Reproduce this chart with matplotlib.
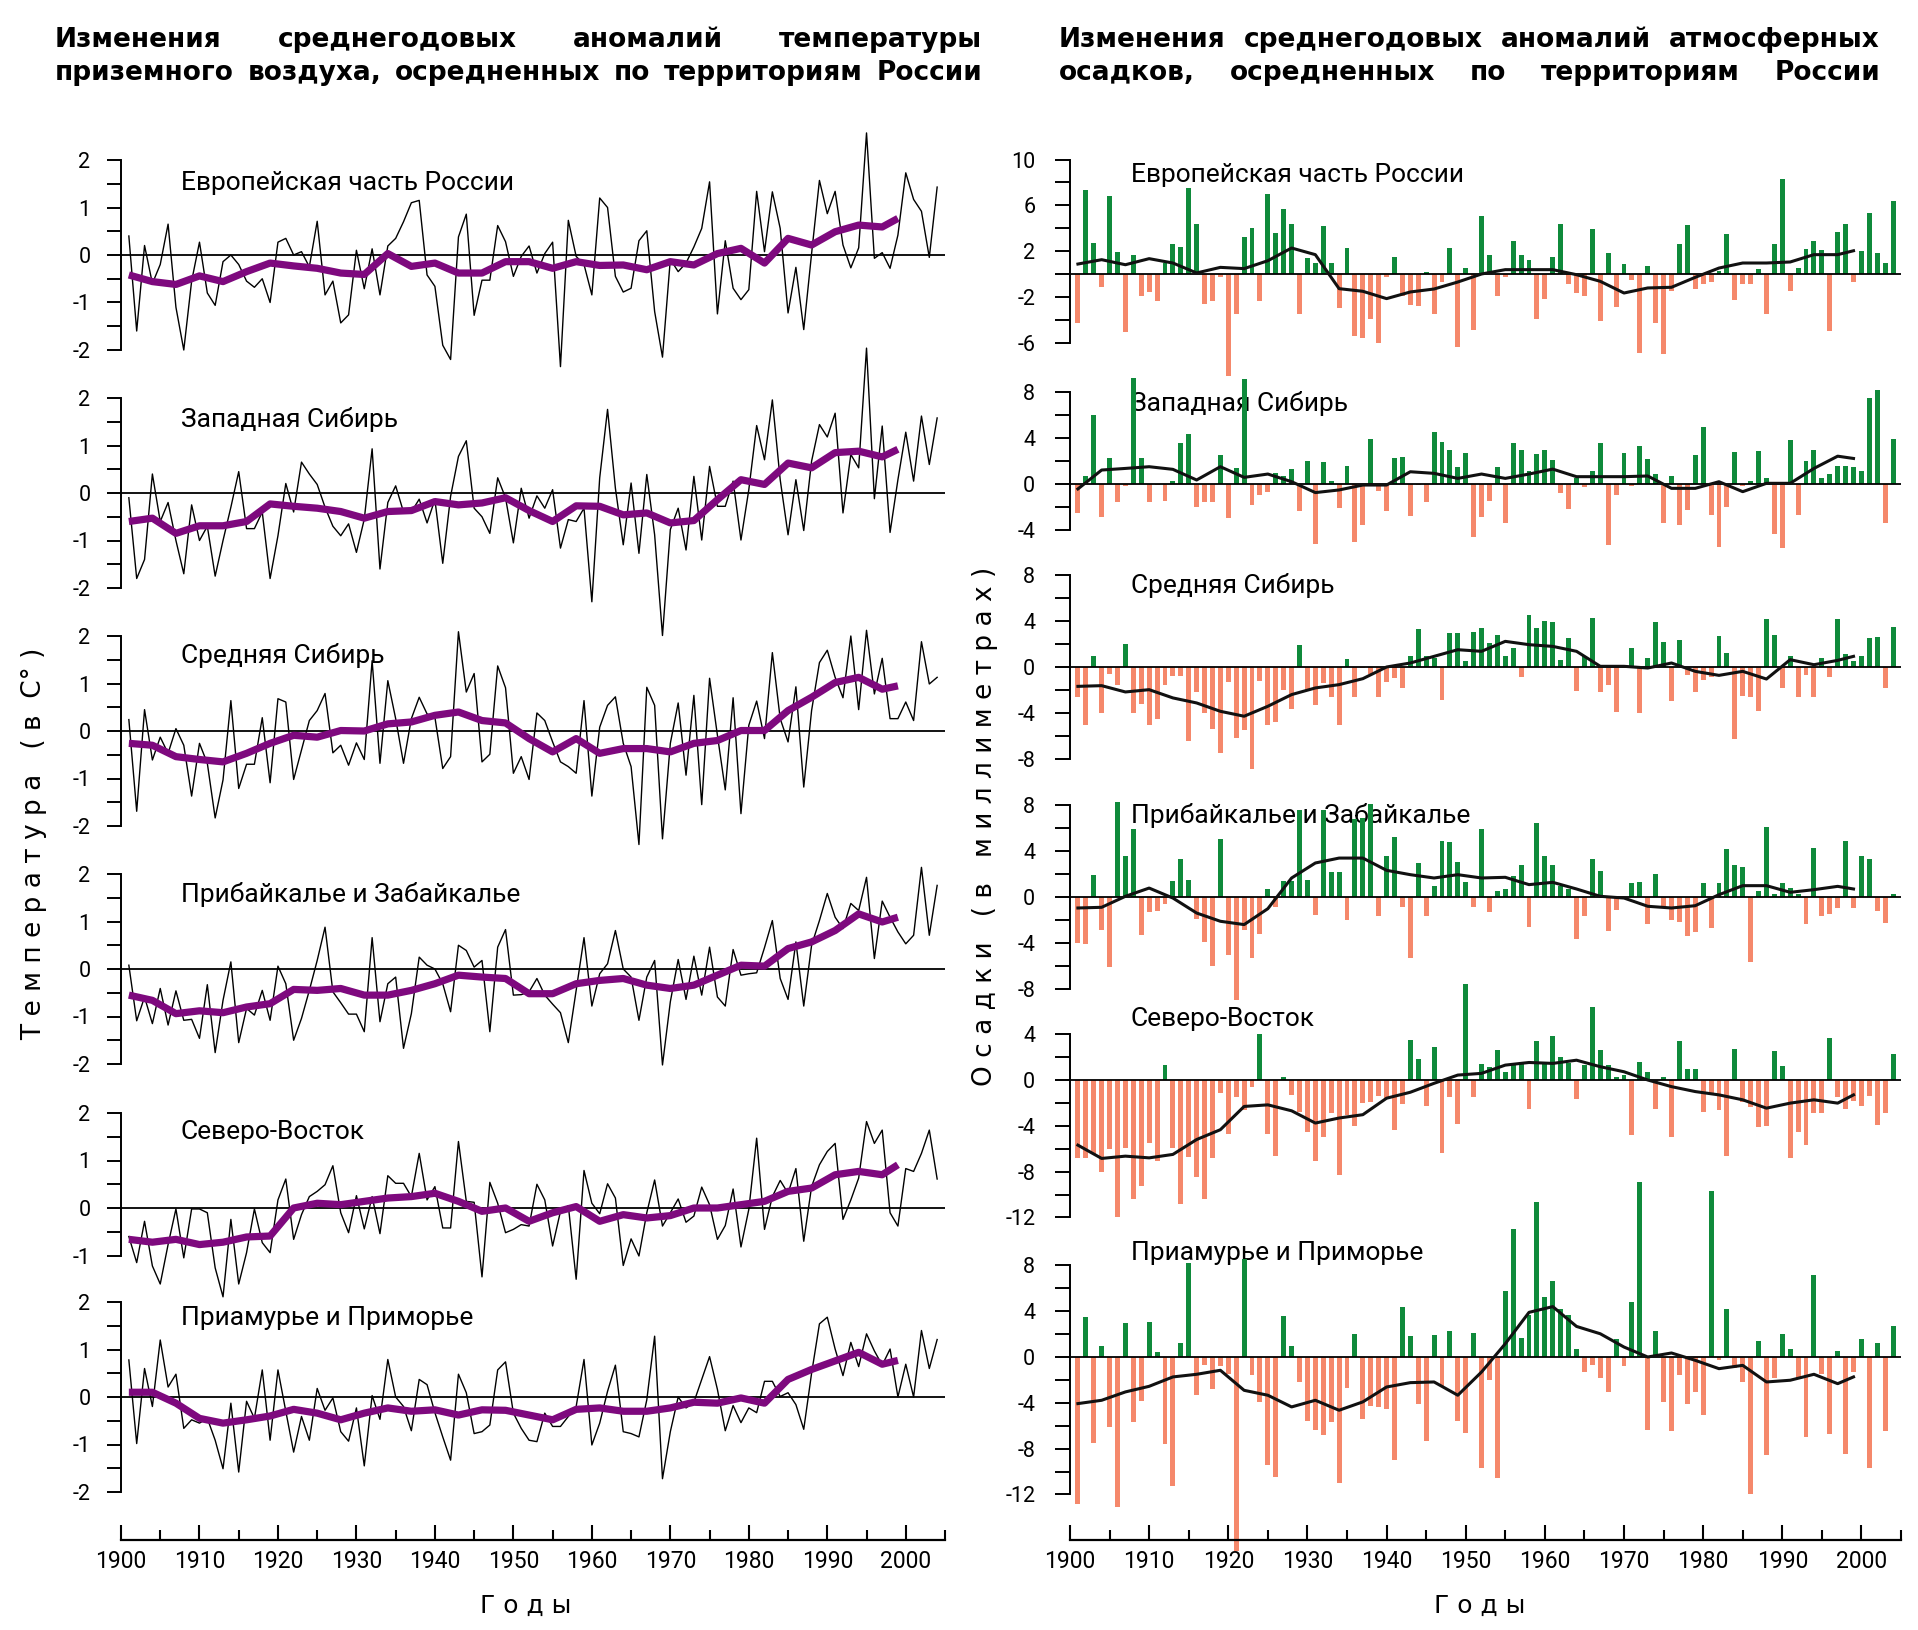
import matplotlib
matplotlib.use("Agg")
import matplotlib.pyplot as plt

plt.rcParams["axes.unicode_minus"] = False
plt.rcParams["font.family"] = ["Roboto", "DejaVu Sans"]

W, H = 1918, 1630
GREEN = "#0f8a3b"
SALMON = "#f5886b"
PURPLE = "#7e097e"

# ---- данные ----
YEARS = list(range(1901, 2005))
SMOOTH_YEARS = list(range(1901, 1998, 3)) + [1999]

REGIONS = ["Европейская часть России", "Западная Сибирь", "Средняя Сибирь",
           "Прибайкалье и Забайкалье", "Северо-Восток", "Приамурье и Приморье"]

# аномалии температуры, °C
TEMP_EUR = [0.4, -1.6, 0.2, -0.6, -0.2, 0.65, -1.1, -2.0, -0.55, 0.27,
            -0.8, -1.06, -0.14, 0.0, -0.2, -0.55, -0.68, -0.5, -1.0, 0.27,
            0.35, 0.0, 0.07, -0.25, 0.71, -0.84, -0.55, -1.43, -1.26, 0.1,
            -0.71, 0.13, -0.84, 0.19, 0.35, 0.7, 1.1, 1.15, -0.42, -0.66,
            -1.9, -2.2, 0.38, 0.86, -1.27, -0.53, -0.53, 0.62, 0.28, -0.45,
            -0.03, 0.19, -0.38, 0.03, 0.27, -2.35, 0.73, -0.03, -0.2, -0.84,
            1.2, 1.0, -0.45, -0.78, -0.7, 0.3, 0.51, -1.19, -2.15, -0.09,
            -0.35, -0.17, 0.17, 0.56, 1.54, -1.24, 0.3, -0.7, -0.94, -0.73,
            1.34, 0.07, 1.33, 0.56, -1.22, -0.26, -1.57, 0.03, 1.57, 0.87,
            1.34, 0.21, -0.27, 0.15, 2.57, -0.07, 0.05, -0.28, 0.42, 1.73,
            1.17, 0.92, -0.05, 1.43]
TEMP_EUR_SMOOTH = [-0.42, -0.56, -0.62, -0.44, -0.56, -0.35, -0.17, -0.23, -0.28, -0.38,
                   -0.41, 0.03, -0.24, -0.17, -0.38, -0.38, -0.14, -0.14, -0.28, -0.14,
                   -0.22, -0.21, -0.31, -0.14, -0.21, 0.03, 0.14, -0.17, 0.35, 0.21,
                   0.49, 0.63, 0.59, 0.77]

TEMP_WSIB = [-0.1, -1.8, -1.4, 0.4, -0.6, -0.2, -1.0, -1.7, -0.25, -1.0,
             -0.7, -1.75, -1.0, -0.3, 0.45, -0.75, -0.75, -0.4, -1.8, -0.9,
             0.2, -0.4, 0.65, 0.4, 0.18, -0.3, -0.7, -0.9, -0.65, -1.25,
             -0.55, 0.93, -1.6, -0.2, 0.15, -0.4, -0.4, -0.13, -0.63, -0.14,
             -1.48, -0.07, 0.77, 1.1, -0.32, -0.5, -0.85, 0.32, -0.1, -1.05,
             0.1, -0.53, -0.06, -0.32, 0.07, -1.16, -0.56, -0.6, -0.32, -2.29,
             0.32, 1.76, 0.1, -1.09, 0.21, -1.27, 0.39, -0.88, -3.0, -0.77,
             -0.32, -1.2, 0.35, -0.99, 0.56, -0.28, -0.28, 0.25, -0.99, 0.07,
             1.42, 0.7, 1.96, 0.28, -0.88, 0.28, -0.79, 0.67, 1.44, 1.18,
             1.68, -0.42, 0.81, 0.53, 3.05, -0.12, 1.41, -0.83, 0.28, 1.28,
             0.25, 1.62, 0.6, 1.58]
TEMP_WSIB_SMOOTH = [-0.6, -0.53, -0.85, -0.69, -0.69, -0.6, -0.23, -0.28, -0.32, -0.39,
                    -0.53, -0.39, -0.37, -0.18, -0.25, -0.21, -0.1, -0.37, -0.6, -0.27,
                    -0.28, -0.46, -0.42, -0.63, -0.58, -0.14, 0.28, 0.18, 0.63, 0.53,
                    0.85, 0.88, 0.76, 0.92]

TEMP_CSIB = [0.24, -1.69, 0.45, -0.61, -0.13, -0.47, 0.05, -0.3, -1.37, -0.26,
             -0.68, -1.83, -1.03, 0.64, -1.21, -0.7, -0.7, 0.28, -1.09, 0.68,
             0.61, -1.02, -0.4, 0.22, 0.43, 0.79, -0.46, -0.3, -0.72, -0.25,
             -0.6, 1.48, -0.68, 1.06, 0.26, -0.68, 0.26, 0.71, 0.36, 0.29,
             -0.79, -0.54, 2.09, 0.82, 1.21, -0.65, -0.49, 1.37, 0.91, -0.89,
             -0.54, -1.02, 0.38, 0.22, -0.23, -0.65, -0.75, -0.89, 0.64, -1.37,
             0.08, 0.54, 0.72, -0.26, -0.75, -2.39, 0.92, 0.54, -2.27, -0.26,
             0.59, -0.93, 0.75, -1.55, 1.11, -0.09, -1.24, 0.7, -1.74, 0.12,
             0.63, -0.16, 1.65, 0.26, -0.23, 0.93, -1.18, 0.43, 1.44, 1.7,
             1.13, 0.7, 2.0, 0.45, 2.12, 0.78, 1.53, 0.26, 0.26, 0.61,
             0.22, 1.88, 0.99, 1.13]
TEMP_CSIB_SMOOTH = [-0.26, -0.3, -0.54, -0.6, -0.65, -0.47, -0.26, -0.09, -0.13, 0.01,
                    0.0, 0.15, 0.19, 0.33, 0.4, 0.22, 0.17, -0.16, -0.44, -0.16,
                    -0.47, -0.37, -0.37, -0.44, -0.26, -0.2, 0.01, 0.01, 0.43, 0.71,
                    1.02, 1.13, 0.88, 0.95]

TEMP_BAIK = [0.08, -1.09, -0.59, -1.15, -0.41, -1.18, -0.46, -1.08, -1.06, -1.46,
             -0.33, -1.76, -0.66, 0.15, -1.55, -0.83, -0.97, -0.45, -1.08, 0.06,
             -0.31, -1.5, -1.04, -0.45, 0.18, 0.88, -0.48, -0.71, -0.95, -0.95,
             -1.32, 0.66, -1.11, -0.31, -0.17, -1.67, -0.94, 0.25, 0.08, 0.0,
             -0.31, -0.9, 0.5, 0.39, 0.04, 0.18, -1.32, 0.46, 0.83, -0.55,
             -0.54, -0.48, -0.2, -0.55, -0.74, -0.92, -1.55, -0.45, 0.66, -0.78,
             -0.1, 0.11, 0.81, 0.0, -0.17, -1.08, -0.17, 0.18, -2.02, -0.69,
             0.2, -0.64, 0.27, -0.55, 0.46, -0.59, -0.78, 0.41, -0.13, -0.1,
             -0.08, 0.45, 1.02, -0.2, -0.64, 0.57, -0.78, 0.5, 1.02, 1.59,
             1.09, 0.85, 1.38, 1.23, 1.93, 0.22, 1.43, 1.09, 0.78, 0.53,
             0.71, 2.14, 0.71, 1.76]
TEMP_BAIK_SMOOTH = [-0.55, -0.66, -0.94, -0.88, -0.92, -0.8, -0.73, -0.43, -0.45, -0.41,
                    -0.55, -0.55, -0.45, -0.31, -0.13, -0.17, -0.2, -0.52, -0.52, -0.31,
                    -0.24, -0.2, -0.34, -0.41, -0.34, -0.13, 0.08, 0.06, 0.43, 0.57,
                    0.81, 1.16, 0.99, 1.09]

TEMP_NE = [-0.6, -1.15, -0.28, -1.22, -1.6, -0.77, -0.02, -1.05, -0.02, -0.02,
           -0.1, -1.26, -1.87, -0.24, -1.6, -0.94, -0.02, -0.73, -0.94, 0.17,
           0.61, -0.66, -0.14, 0.24, 0.35, 0.49, 0.89, -0.1, -0.52, 0.26,
           -0.44, 0.24, -0.54, 0.68, 0.52, 0.52, 0.24, 1.15, 0.17, 0.45,
           -0.42, -0.42, 1.4, 0.14, 0.12, -1.45, 0.54, 0.1, -0.52, -0.45,
           -0.35, -0.38, 0.5, 0.17, -0.8, -0.07, 0.05, -1.5, 0.79, 0.1,
           -0.12, 0.51, 0.21, -1.21, -0.65, -1.01, -0.1, 0.59, -0.38, -0.1,
           0.19, -0.3, -0.17, 0.44, 0.07, -0.66, -0.37, 0.4, -0.82, -0.03,
           1.47, -0.45, 0.24, 0.58, 0.31, 0.83, -0.7, 0.45, 0.91, 1.19,
           1.36, -0.24, 0.17, 0.63, 1.82, 1.36, 1.64, -0.1, -0.38, 0.83,
           0.77, 1.15, 1.64, 0.61]
TEMP_NE_SMOOTH = [-0.66, -0.72, -0.66, -0.77, -0.72, -0.61, -0.59, 0.0, 0.1, 0.07,
                  0.14, 0.21, 0.24, 0.31, 0.14, -0.07, 0.0, -0.28, -0.1, 0.03,
                  -0.28, -0.14, -0.21, -0.16, 0.0, 0.0, 0.07, 0.14, 0.35, 0.42,
                  0.7, 0.77, 0.7, 0.91]

TEMP_AMUR = [0.78, -0.98, 0.6, -0.2, 1.2, 0.21, 0.48, -0.66, -0.48, -0.55,
             -0.45, -0.91, -1.51, -0.13, -1.58, -0.09, -0.45, 0.57, -0.91, 0.57,
             -0.3, -1.16, -0.41, -0.91, 0.18, -0.28, -0.02, -0.73, -0.93, -0.23,
             -1.45, 0.03, -0.47, 0.79, 0.0, -0.2, -0.71, 0.37, 0.26, -0.33,
             -0.84, -1.33, 0.48, 0.09, -0.77, -0.73, -0.59, 0.57, 0.74, -0.34,
             -0.66, -0.91, -0.94, -0.34, -0.62, -0.62, -0.41, -0.2, 0.79, -1.01,
             -0.55, 0.12, 0.67, -0.73, -0.77, -0.84, -0.06, 1.28, -1.72, -0.73,
             0.0, -0.23, -0.11, 0.37, 0.85, 0.16, -0.71, -0.18, -0.54, -0.23,
             -0.33, 0.33, 0.33, 0.01, 0.09, -0.16, -0.68, 0.5, 1.54, 1.68,
             1.01, 0.45, 1.15, 0.64, 1.33, 0.97, 0.67, 1.01, 0.0, 0.69,
             0.0, 1.4, 0.6, 1.21]
TEMP_AMUR_SMOOTH = [0.1, 0.1, -0.13, -0.45, -0.55, -0.48, -0.4, -0.26, -0.34, -0.48,
                    -0.34, -0.23, -0.3, -0.27, -0.38, -0.27, -0.28, -0.38, -0.48, -0.26,
                    -0.23, -0.3, -0.3, -0.23, -0.11, -0.13, -0.02, -0.13, 0.37, 0.58,
                    0.76, 0.94, 0.69, 0.77]

# аномалии осадков, мм
PREC_EUR = [-4.3, 7.3, 2.7, -1.1, 6.8, 1.9, -5.1, 1.7, -1.9, -1.6,
            -2.4, 1.0, 2.6, 2.4, 7.5, 4.4, -2.6, -2.4, -0.3, -8.9,
            -3.5, 3.2, 4.0, -2.4, 7.0, 3.6, 5.7, 4.4, -3.5, 1.4,
            1.0, 4.2, 1.0, -3.0, 2.3, -5.4, -5.6, -3.9, -6.0, -0.3,
            1.5, -1.9, -2.7, -2.8, 0.2, -3.5, -0.7, 2.3, -6.4, 0.5,
            -4.9, 5.1, 1.7, -1.9, -0.3, 2.9, 1.7, 1.2, -3.9, -2.2,
            1.5, 4.4, -0.9, -1.7, -1.9, 3.9, -4.1, 1.8, -2.9, 0.9,
            -0.5, -6.9, 0.7, -4.3, -7.0, -1.5, 2.6, 4.3, -1.3, -0.9,
            -0.7, 0.3, 3.5, -2.3, -0.9, -0.9, 0.4, -3.5, 2.6, 8.3,
            -1.5, 0.5, 2.2, 2.9, 2.1, -5.0, 3.7, 4.4, -0.7, 2.0,
            5.3, 1.8, 1.0, 6.4]
PREC_EUR_SMOOTH = [0.87, 1.25, 0.81, 1.34, 0.96, 0.09, 0.58, 0.47, 1.16, 2.27,
                   1.69, -1.28, -1.51, -2.15, -1.57, -1.31, -0.7, 0.0, 0.38, 0.38,
                   0.38, -0.06, -0.64, -1.66, -1.22, -1.16, -0.29, 0.52, 0.96, 0.96,
                   1.05, 1.69, 1.69, 2.03]

PREC_WSIB = [-2.5, 0.7, 6.0, -2.9, 2.3, -1.6, -0.2, 9.3, 2.3, -1.6,
             -0.1, -1.5, 0.3, 3.6, 4.4, -2.0, -1.6, -1.6, 2.5, -3.0,
             1.4, 9.2, -1.8, -1.0, -0.7, 1.0, 0.7, 1.3, -2.4, 2.0,
             -5.2, 1.9, 0.3, -2.1, 1.6, -5.1, -3.6, 3.9, -0.6, -2.4,
             2.3, 2.4, -2.8, -0.1, -1.6, 4.5, 3.7, 3.0, 1.5, 2.7,
             -4.6, -2.9, -1.5, 1.5, -3.4, 3.6, 3.0, 1.1, 2.6, 3.0,
             2.1, -0.8, -2.2, 0.5, -0.3, 1.1, 3.6, -5.3, -1.0, 2.7,
             -0.2, 3.3, 2.2, 0.9, -3.4, 0.7, -3.6, -2.3, 2.5, 5.0,
             -2.7, -5.5, -2.0, 2.8, -0.2, 0.3, 2.9, 0.5, -4.4, -5.6,
             3.8, -2.7, 2.0, 3.0, 0.5, 0.9, 1.6, 1.6, 1.5, 1.1,
             7.5, 8.2, -3.4, 3.9]
PREC_WSIB_SMOOTH = [-0.43, 1.22, 1.36, 1.51, 1.28, 0.35, 1.51, 0.58, 0.87, 0.2,
                    -0.75, -0.52, -0.09, -0.09, 1.07, 0.93, 0.49, 0.87, 0.49, 0.87,
                    1.3, 0.64, 0.64, 0.64, 0.7, -0.38, -0.38, 0.2, -0.67, 0.06,
                    0.06, 1.36, 2.43, 2.23]

PREC_CSIB = [-2.6, -5.1, 1.0, -4.0, -0.6, -1.6, 2.0, -4.0, -3.2, -5.1,
             -4.5, -1.6, -0.8, -0.8, -6.5, -2.2, -4.0, -5.4, -7.5, -1.3,
             -6.2, -5.5, -8.9, -1.2, -5.1, -4.8, -2.0, -3.7, 1.9, -2.1,
             -3.3, -1.4, -2.6, -5.1, 0.7, -2.6, -0.1, -0.6, -2.6, -1.3,
             -1.0, -1.8, 1.0, 3.3, 1.0, 0.8, -2.9, 3.0, 3.0, 0.5,
             3.1, 3.4, 2.1, 2.8, 1.0, 1.7, -0.9, 4.5, 3.4, 4.0,
             3.9, 0.6, 2.5, -2.1, 1.0, 4.3, -2.2, -1.6, -3.9, -0.1,
             1.7, -4.0, 0.8, 3.9, 2.2, -3.0, 2.4, -0.7, -2.2, -1.1,
             -0.9, 2.7, 1.2, -6.3, -2.5, -2.6, -3.8, 4.2, 2.8, -1.8,
             1.0, -2.6, -0.7, -2.6, 0.8, -0.9, 4.2, 1.1, 0.5, 1.0,
             2.5, 2.6, -1.8, 3.5]
PREC_CSIB_SMOOTH = [-1.69, -1.63, -2.18, -1.98, -2.7, -3.14, -3.87, -4.3, -3.43, -2.41,
                    -1.83, -1.54, -1.02, 0.0, 0.35, 0.93, 1.51, 1.37, 2.24, 1.95,
                    1.8, 1.37, 0.06, 0.06, -0.09, 0.35, -0.38, -0.73, -0.38, -1.05,
                    0.64, 0.2, 0.58, 0.93]

PREC_BAIK = [-4.0, -4.1, 1.9, -2.9, -6.1, 8.3, 3.6, 5.9, -3.3, -1.3,
             -1.2, -0.6, 1.4, 3.3, 1.5, -1.9, -3.9, -6.0, 5.1, -5.1,
             -9.0, -2.9, -5.3, -3.2, 0.7, -0.9, 1.4, 1.4, 7.6, 1.5,
             -1.6, 7.6, 2.2, 2.2, -2.0, 6.8, 6.9, 8.1, -1.7, 3.6,
             5.2, -0.9, -5.3, 3.0, -1.7, 1.0, 4.9, 4.8, 3.1, 1.3,
             -0.9, 5.9, -1.3, 0.5, 0.7, 1.8, 2.8, -2.6, 6.5, 3.6,
             2.8, 1.0, 0.7, -3.7, -1.7, 3.3, 2.3, -3.0, -1.1, -0.2,
             1.2, 1.3, -2.4, 2.0, -0.8, -2.0, -2.2, -3.4, -3.1, 1.2,
             -2.7, 1.2, 4.2, 2.8, 2.6, -5.7, 0.5, 6.1, 0.3, 1.2,
             0.8, 0.3, -2.4, 4.3, -1.7, -1.5, -1.0, 4.9, -1.0, 3.6,
             3.3, -1.2, -2.3, 0.3]
PREC_BAIK_SMOOTH = [-0.96, -0.9, 0.06, 0.78, -0.09, -1.4, -2.12, -2.41, -1.02, 1.66,
                    2.97, 3.4, 3.4, 2.33, 1.95, 1.66, 1.95, 1.66, 1.72, 1.08,
                    1.28, 0.7, 0.06, -0.09, -0.81, -0.96, -0.76, 0.2, 0.99, 0.99,
                    0.41, 0.64, 0.93, 0.7]

PREC_NE = [-6.8, -6.8, -6.5, -8.0, -6.0, -12.0, -5.9, -10.4, -9.3, -5.5,
           -7.1, 1.3, -5.9, -10.8, -6.7, -8.5, -10.4, -6.8, -1.1, -4.7,
           -1.5, -2.6, -0.6, 4.0, -4.7, -6.6, 0.3, -1.3, -2.8, -4.5,
           -7.1, -5.0, -2.9, -8.3, -3.1, -4.0, -2.0, -1.9, -1.4, -1.6,
           -4.4, -2.1, 3.5, 1.8, -2.3, 2.9, -6.4, -1.5, -3.8, 8.4,
           -1.5, 1.4, 1.1, 2.6, 0.7, 1.5, 1.5, -2.5, 3.4, 1.5,
           3.8, 2.0, 1.5, -1.7, 1.3, 6.4, 2.6, 1.3, 0.3, 0.4,
           -4.8, 1.6, 0.7, -2.5, 0.3, -5.0, 3.4, 1.0, 1.0, -2.8,
           -1.2, -2.6, -6.6, 2.7, -1.9, -2.4, -4.1, -4.0, 2.5, 1.2,
           -6.8, -4.5, -5.7, -2.9, -2.9, 3.7, -1.5, -2.5, -1.8, -2.3,
           -1.4, -3.9, -2.9, 2.3]
PREC_NE_SMOOTH = [-5.69, -6.85, -6.65, -6.8, -6.5, -5.2, -4.34, -2.31, -2.17, -2.69,
                  -3.76, -3.32, -3.03, -1.59, -1.07, -0.29, 0.43, 0.58, 1.3, 1.53,
                  1.45, 1.73, 1.16, 0.72, 0.0, -0.58, -1.01, -1.3, -1.73, -2.46,
                  -2.02, -1.73, -2.02, -1.3]

PREC_AMUR = [-12.8, 3.5, -7.5, 1.0, -6.1, -13.1, 3.0, -5.7, -3.8, 3.1,
             0.4, -7.6, -11.3, 1.2, 8.2, -3.3, -0.7, -2.8, -0.8, -1.5,
             -16.9, 8.6, -1.6, -3.9, -9.4, -10.5, 3.6, 1.0, -2.2, -5.6,
             -6.4, -6.8, -5.7, -11.0, -2.7, 2.0, -5.4, -4.3, -4.4, -4.5,
             -9.0, 4.4, 1.8, -4.1, -7.3, 1.9, -2.5, 2.3, -5.6, -6.6,
             2.1, -9.7, -2.0, -10.6, 5.8, 11.2, 1.7, 3.7, 13.5, 5.2,
             6.6, 4.2, 3.7, 0.7, -1.3, -0.7, -1.8, -3.1, 1.6, -0.8,
             4.8, 15.3, -6.4, 2.3, -3.9, -6.5, -1.6, -4.1, -3.1, -5.1,
             14.5, -0.3, 4.2, -1.0, -2.2, -12.0, 1.4, -8.6, -1.8, 2.0,
             0.7, -1.8, -7.0, 7.2, -1.5, -6.7, 0.5, -8.5, -1.3, 1.6,
             -9.7, 1.2, -6.5, 2.7]
PREC_AMUR_SMOOTH = [-4.07, -3.78, -3.05, -2.56, -1.74, -1.51, -1.16, -2.91, -3.34, -4.36,
                    -3.78, -4.65, -3.92, -2.62, -2.24, -2.18, -3.34, -1.31, 1.16, 3.9,
                    4.4, 2.67, 2.03, 0.87, 0.0, 0.35, -0.29, -1.02, -0.73, -2.18,
                    -2.03, -1.51, -2.33, -1.74]

TEMP = [(TEMP_EUR, TEMP_EUR_SMOOTH), (TEMP_WSIB, TEMP_WSIB_SMOOTH),
        (TEMP_CSIB, TEMP_CSIB_SMOOTH), (TEMP_BAIK, TEMP_BAIK_SMOOTH),
        (TEMP_NE, TEMP_NE_SMOOTH), (TEMP_AMUR, TEMP_AMUR_SMOOTH)]
PREC = [(PREC_EUR, PREC_EUR_SMOOTH), (PREC_WSIB, PREC_WSIB_SMOOTH),
        (PREC_CSIB, PREC_CSIB_SMOOTH), (PREC_BAIK, PREC_BAIK_SMOOTH),
        (PREC_NE, PREC_NE_SMOOTH), (PREC_AMUR, PREC_AMUR_SMOOTH)]

# ---- раскладка в пикселях ----
fig = plt.figure(figsize=(W / 100, H / 100), dpi=100)
fig.patch.set_facecolor("white")


def px_axes(x0, x1, y_top, y_bot):
    ax = fig.add_axes([x0 / W, 1 - y_bot / H, (x1 - x0) / W, (y_bot - y_top) / H])
    ax.patch.set_visible(False)
    return ax


def fy(y):
    return 1 - y / H


def frame(ax, lo, hi, major, minor, length, pad):
    for s in ["top", "right", "bottom"]:
        ax.spines[s].set_visible(False)
    ax.spines["left"].set_bounds(lo, hi)
    ax.spines["left"].set_linewidth(1.4)
    ax.set_xticks([])
    ax.set_yticks(major)
    ax.set_yticklabels([f"{v:g}" for v in major])
    ax.set_yticks(minor, minor=True)
    ax.tick_params(axis="y", which="both", direction="out", length=length,
                   width=1.4, labelsize=15.5, pad=pad)


# левая колонка: температура
LX0, LX1 = 121, 945
T_UNIT = 47.5
t_zero = [255, 493, 731, 969, 1208, 1397]
t_bounds = [(-2, 2), (-2, 2), (-2, 2), (-2, 2), (-1, 2), (-2, 2)]
t_label_y = [183, 420, 656, 894, 1132, 1318]

for (raw, smooth), z, (lo, hi), ly, name in zip(TEMP, t_zero, t_bounds, t_label_y, REGIONS):
    ax = px_axes(LX0, LX1, z - 2.5 * T_UNIT, z + 2.5 * T_UNIT)
    ax.set_xlim(1900, 2005)
    ax.set_ylim(-2.5, 2.5)
    ax.axhline(0, color="black", lw=1.3, zorder=2)
    ax.plot(YEARS, raw, color="black", lw=1.0, zorder=3, clip_on=False)
    ax.plot(SMOOTH_YEARS, smooth, color=PURPLE, lw=5.2, zorder=4, clip_on=False,
            solid_joinstyle="round", solid_capstyle="butt")
    major = list(range(hi, lo - 1, -1))
    minor = [v + 0.5 for v in range(lo, hi)]
    frame(ax, lo, hi, major, minor, 10, 12)
    ax.text(181 / W, fy(ly), name, transform=fig.transFigure, fontsize=19,
            va="center", ha="left", zorder=1)

# правая колонка: осадки
RX0, RX1 = 1070, 1901
P_UNIT = 11.45
p_zero = [274, 484, 667, 897, 1080, 1357]
p_bounds = [(-6, 10), (-4, 8), (-8, 8), (-8, 8), (-12, 4), (-12, 8)]
p_label_y = [175, 404, 586, 815, 1019, 1253]

for (vals, smooth), z, (lo, hi), ly, name in zip(PREC, p_zero, p_bounds, p_label_y, REGIONS):
    ax = px_axes(RX0, RX1, z - (hi + 1) * P_UNIT, z - (lo - 1) * P_UNIT)
    ax.set_xlim(1900, 2005)
    ax.set_ylim(lo - 1, hi + 1)
    colors = [GREEN if v > 0 else SALMON for v in vals]
    ax.bar(YEARS, vals, width=0.62, color=colors, linewidth=0, zorder=2, clip_on=False)
    ax.axhline(0, color="black", lw=1.3, zorder=3)
    ax.plot(SMOOTH_YEARS, smooth, color="#111111", lw=2.2, zorder=4, clip_on=False,
            solid_joinstyle="round")
    major = list(range(hi, lo - 1, -4))
    minor = list(range(hi - 2, lo, -4))
    frame(ax, lo, hi, major, minor, 11, 14)
    ax.text(1131 / W, fy(ly), name, transform=fig.transFigure, fontsize=19,
            va="center", ha="left", zorder=1)

# оси годов
for x0, x1, cx in [(LX0, LX1, 526), (RX0, RX1, 1480)]:
    ax = px_axes(x0, x1, 1520, 1540)
    ax.set_xlim(1900, 2005)
    for s in ["top", "right", "left"]:
        ax.spines[s].set_visible(False)
    ax.spines["bottom"].set_linewidth(1.6)
    ax.set_yticks([])
    ax.set_xticks(range(1900, 2001, 10))
    ax.set_xticks(range(1905, 2006, 10), minor=True)
    ax.tick_params(axis="x", which="major", direction="in", length=11, width=1.5,
                   labelsize=16.5, pad=7)
    ax.tick_params(axis="x", which="minor", direction="in", length=7, width=1.5)
    fig.text(cx / W, fy(1606), "Г о д ы", fontsize=18, ha="center", va="center",
             family="DejaVu Sans")

# подписи осей
fig.text(34 / W, fy(844), "Т е м п е р а т у р а   ( в  С° )", rotation=90,
         fontsize=19, ha="center", va="center", family="DejaVu Sans")
fig.text(985 / W, fy(826), "О с а д к и   ( в   м и л л и м е т р а х )", rotation=90,
         fontsize=19, ha="center", va="center", family="DejaVu Sans")

# заголовки, выровненные по ширине
renderer = fig.canvas.get_renderer()


def justify_line(line, x0, x1, y):
    words = line.split()
    items = [fig.text(0, fy(y), w, va="center", ha="left", fontsize=19,
                      fontweight="bold", family="DejaVu Sans") for w in words]
    widths = [t.get_window_extent(renderer).width for t in items]
    gap = (x1 - x0 - sum(widths)) / (len(words) - 1)
    x = x0
    for t, w in zip(items, widths):
        t.set_x(x / W)
        x += w + gap


justify_line("Изменения среднегодовых аномалий температуры", 55, 982, 40)
justify_line("приземного воздуха, осредненных по территориям России", 55, 982, 73)
justify_line("Изменения среднегодовых аномалий атмосферных", 1059, 1880, 40)
justify_line("осадков, осредненных по территориям России", 1059, 1880, 73)

fig.savefig("out.png", dpi=100, facecolor="white")
